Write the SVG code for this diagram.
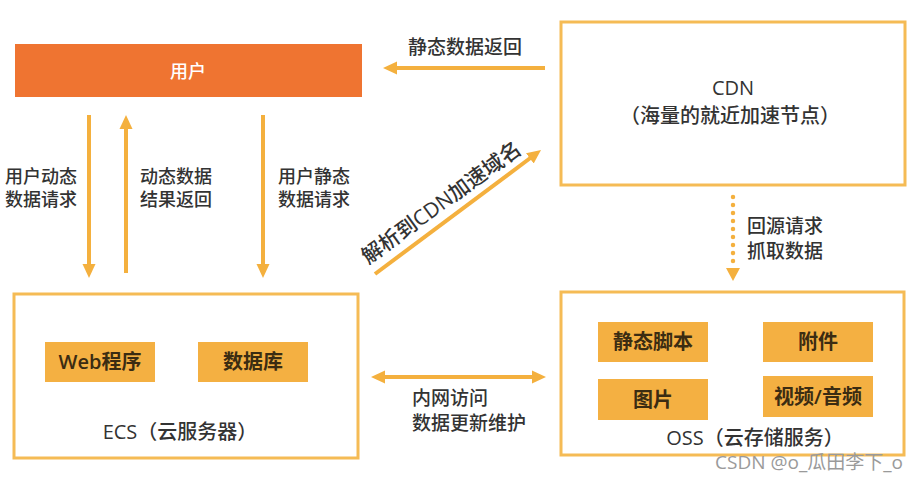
<svg xmlns="http://www.w3.org/2000/svg" width="922" height="480" viewBox="0 0 922 480">
<defs>
<style>
text{font-family:"Open Sans","Noto Sans CJK SC",sans-serif;fill:#333;dominant-baseline:central;font-weight:500}
.frame{fill:#fff;stroke:#f5bb55;stroke-width:3}
.item{fill:#f4b042}
.item-t{font-size:20px;text-anchor:middle;font-weight:600;fill:#3b2c12}
.lbl{font-size:18px}
.lbl2{font-size:19px}
.big{font-size:20px;text-anchor:middle}
.arr{stroke:#f4b03e;stroke-width:4;fill:none}
</style>
<marker id="ah" viewBox="0 0 14 14" markerUnits="userSpaceOnUse" markerWidth="14" markerHeight="14" refX="4" refY="7" orient="auto-start-reverse">
<path d="M0,0.5 L14,7 L0,13.5 z" fill="#f4b03e"/>
</marker>
</defs>
<rect width="922" height="480" fill="#fff"/>

<g id="user">
<rect x="15" y="44" width="347" height="53" fill="#ef7431"/>
<text x="188" y="71" style="font-size:18px;text-anchor:middle;fill:#fff">用户</text>
</g>

<g id="cdn">
<rect class="frame" x="561" y="22" width="344" height="163"/>
<text class="big" x="733" y="87">CDN</text>
<text class="big" x="730" y="115">（海量的就近加速节点）</text>
</g>

<g id="ecs">
<rect class="frame" x="14" y="294" width="344" height="164"/>
<g id="web">
<rect class="item" x="45" y="342" width="110" height="40"/>
<text class="item-t" x="100" y="361">Web程序</text>
</g>
<g id="db">
<rect class="item" x="198" y="342" width="110" height="40"/>
<text class="item-t" x="253" y="361">数据库</text>
</g>
<text class="big" x="180" y="431">ECS（云服务器）</text>
</g>

<g id="oss">
<rect class="frame" x="561" y="292" width="343" height="163"/>
<g id="script">
<rect class="item" x="598" y="322" width="110" height="40"/>
<text class="item-t" x="653" y="341">静态脚本</text>
</g>
<g id="attach">
<rect class="item" x="763" y="322" width="110" height="40"/>
<text class="item-t" x="818" y="341">附件</text>
</g>
<g id="image">
<rect class="item" x="598" y="379" width="110" height="41"/>
<text class="item-t" x="653" y="399">图片</text>
</g>
<g id="media">
<rect class="item" x="763" y="376" width="110" height="41"/>
<text class="item-t" x="818" y="396">视频/音频</text>
</g>
<text class="big" x="755" y="437">OSS（云存储服务）</text>
</g>

<g id="connectors">
<line class="arr" x1="545" y1="68" x2="393" y2="68" marker-end="url(#ah)"/>
<text class="lbl2" x="408" y="47">静态数据返回</text>

<line class="arr" x1="89" y1="115" x2="89" y2="268" marker-end="url(#ah)"/>
<text class="lbl" x="5" y="176">用户动态</text>
<text class="lbl" x="5" y="199">数据请求</text>

<line class="arr" x1="126" y1="273" x2="126" y2="125" marker-end="url(#ah)"/>
<text class="lbl" x="140" y="176">动态数据</text>
<text class="lbl" x="140" y="199">结果返回</text>

<line class="arr" x1="263" y1="115" x2="263" y2="268" marker-end="url(#ah)"/>
<text class="lbl" x="278" y="176">用户静态</text>
<text class="lbl" x="278" y="199">数据请求</text>

<line class="arr" x1="375" y1="274" x2="533" y2="156" marker-end="url(#ah)"/>
<text transform="translate(441,202) rotate(-36)" style="font-size:21px;text-anchor:middle">解析到CDN加速域名</text>

<line class="arr" x1="381" y1="377" x2="536" y2="377" marker-start="url(#ah)" marker-end="url(#ah)"/>
<text class="lbl2" x="412" y="398">内网访问</text>
<text class="lbl2" x="412" y="423">数据更新维护</text>

<line x1="733" y1="197" x2="733" y2="262" stroke="#f4b03e" stroke-width="4.5" stroke-linecap="round" stroke-dasharray="0 8"/>
<path d="M726,268 L740,268 L733,281 z" fill="#f4b03e"/>
<text class="lbl2" x="747" y="226">回源请求</text>
<text class="lbl2" x="747" y="251">抓取数据</text>
</g>

<text x="715" y="462" style="font-size:19px;fill:#9a9a9a;font-weight:400">CSDN @o_瓜田李下_o</text>
</svg>
